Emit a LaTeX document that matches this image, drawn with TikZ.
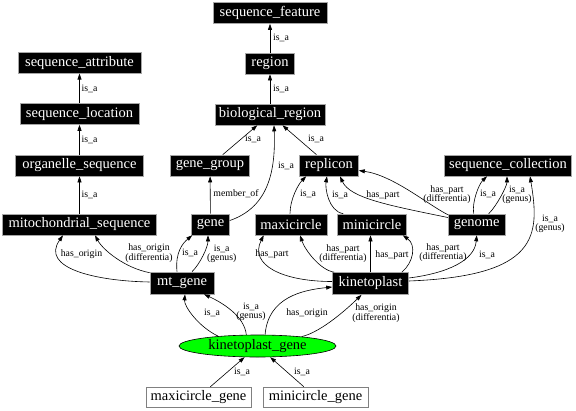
\documentclass[tikz,border=0pt]{standalone}
\usepackage{fontspec}
\setmainfont{Liberation Serif}
\usetikzlibrary{arrows.meta,shapes.geometric,calc}
\begin{document}
\begin{tikzpicture}[x=1pt,y=-1pt,
  bbox/.style={draw=gray!70,fill=black,text=white,line width=0.6pt,inner sep=0pt,minimum height=21pt,font=\fontsize{14.5}{16}\selectfont},
  wbox/.style={draw=gray,fill=white,text=black,line width=0.6pt,inner sep=0pt,minimum height=20pt,font=\fontsize{14.5}{16}\selectfont},
  gell/.style={ellipse,draw=black,fill=green,text=black,line width=0.6pt,inner sep=0pt,minimum width=157pt,minimum height=22pt,font=\fontsize{14.5}{16}\selectfont},
  lbl/.style={font=\fontsize{9.8}{9}\selectfont,align=center,inner sep=0pt},
  e/.style={draw=black,line width=0.6pt,-{Triangle[length=6pt,width=4pt]}}]
\useasboundingbox (0,0) rectangle (576,410);
% nodes
\node[bbox,minimum width=114pt] (sf) at (270,13) {sequence\_feature};
\node[bbox,minimum width=49pt] (region) at (270,63.5) {region};
\node[bbox,minimum width=110pt] (bio) at (270,114.5) {biological\_region};
\node[bbox,minimum width=123pt] (sattr) at (79.5,62.7) {sequence\_attribute};
\node[bbox,minimum width=119pt] (sloc) at (79.5,114) {sequence\_location};
\node[bbox,minimum width=128pt] (org) at (79.5,165.5) {organelle\_sequence};
\node[bbox,minimum width=79pt] (gg) at (210,165.5) {gene\_group};
\node[bbox,minimum width=59pt] (rep) at (329,165.5) {replicon};
\node[bbox,minimum width=127pt] (sc) at (508,165.5) {sequence\_collection};
\node[bbox,minimum width=154pt] (mito) at (79.5,224.5) {mitochondrial\_sequence};
\node[bbox,minimum width=38pt] (gene) at (210.5,224.5) {gene};
\node[bbox,minimum width=72pt] (maxc) at (291,224.5) {maxicircle};
\node[bbox,minimum width=69pt] (minc) at (372,224.5) {minicircle};
\node[bbox,minimum width=57pt] (genome) at (476.7,224.5) {genome};
\node[bbox,minimum width=64pt,minimum height=22pt] (mtg) at (182,283) {mt\_gene};
\node[bbox,minimum width=76pt,minimum height=22pt] (kin) at (370.5,283.5) {kinetoplast};
\node[gell] (kg) at (257.5,346) {kinetoplast\_gene};
\node[wbox,minimum width=105pt] (mxg) at (198.5,397) {maxicircle\_gene};
\node[wbox,minimum width=105pt] (mng) at (315.5,397) {minicircle\_gene};
% edges
\draw[e] (region) -- (sf);
\draw[e] (bio) -- (region);
\draw[e] (sloc) -- (sattr);
\draw[e] (org) -- (sloc);
\draw[e] (mito) -- (org);
\draw[e] (gg) -- (bio);
\draw[e] ($(gene.east)+(0,-4)$) .. controls (266,208) and (276,175.5) .. ($(bio.south)+(4,0)$);
\draw[e] (rep) -- (bio);
\draw[e] (gene) -- (gg);
\draw[e] ($(mtg.west)+(0,-1)$) .. controls (95,281) and (40,268) .. ($(mito.south)+(-16.5,0)$);
\draw[e] ($(mtg.north west)+(0,1)$) .. controls (125,268) and (103,250) .. ($(mito.south)+(15.5,0)$);
\draw[e] ($(mtg.north)+(-5,0)$) .. controls (175,252) and (183,243) .. ($(gene.south west)+(1,0)$);
\draw[e] ($(mtg.north)+(10,0)$) .. controls (200,264) and (208,247) .. ($(gene.south)+(-2.5,0)$);
\draw[e] (kg.166) .. controls (198,326.5) and (184,306) .. ($(mtg.south)+(3,0)$);
\draw[e] (kg.135) .. controls (244.5,316) and (222,302.5) .. ($(mtg.south)+(22,0)$);
\draw[e] (kg.56) .. controls (268,297) and (303,290) .. ($(kin.west)+(0,3.5)$);
\draw[e] (kg.12) .. controls (322,332) and (349.5,306.5) .. ($(kin.south)+(-9,0)$);
\draw[e] (mxg) -- (kg);
\draw[e] (mng) -- (kg);
\draw[e] ($(kin.west)+(0,-2)$) .. controls (282.5,281.5) and (249,265) .. ($(maxc.south west)+(9,0)$);
\draw[e] ($(kin.north west)+(2,0)$) .. controls (320,270) and (305,250) .. ($(maxc.south)+(9,0)$);
\draw[e] (kin.north) -- (kin.north |- minc.south);
\draw[e] ($(kin.north east)+(-7,0)$) .. controls (413.5,262.5) and (416.5,245) .. ($(minc.south east)+(-4,0)$);
\draw[e] ($(kin.east)+(0,-5.5)$) .. controls (448.5,273) and (474.7,260) .. (genome.south);
\draw[e] ($(kin.east)+(0,-2.5)$) .. controls (538.5,276) and (540,236) .. ($(sc.south)+(22,0)$);
\draw[e] ($(genome.north)+(-3,0)$) .. controls (471.7,202) and (479,184) .. ($(sc.south)+(-21,0)$);
\draw[e] ($(genome.north)+(12,0)$) .. controls (496.7,206) and (507,186) .. ($(sc.south)+(-1,0)$);
\draw[e] ($(genome.north west)+(0,1)$) .. controls (428.3,205) and (393.5,175.5) .. ($(rep.east)+(0,5)$);
\draw[e] ($(genome.west)+(0,-7)$) .. controls (388.3,205.3) and (350,198) .. ($(rep.south)+(11,0)$);
\draw[e] ($(minc.north west)+(6,0)$) .. controls (328.3,211) and (325,188) .. ($(rep.south)+(-2,0)$);
\draw[e] ($(maxc.north)+(-1,0)$) .. controls (290,199) and (298.5,184) .. ($(rep.south west)+(7,0)$);
% labels
\node[lbl] (l1) at (281,38) {is\_a};
\node[lbl] (l2) at (281,89) {is\_a};
\node[lbl] (l3) at (89.5,89) {is\_a};
\node[lbl] (l4) at (89.5,139.5) {is\_a};
\node[lbl] (l5) at (89.5,195) {is\_a};
\node[lbl] (l6) at (253,139) {is\_a};
\node[lbl] (l7) at (286,165.5) {is\_a};
\node[lbl] (l8) at (316,139) {is\_a};
\node[lbl] (l9) at (236,194) {member\_of};
\node[lbl] (l10) at (81.5,254) {has\_origin};
\node[lbl] (l11) at (149,253.5) {has\_origin\\(differentia)};
\node[lbl] (l12) at (190,253) {is\_a};
\node[lbl] (l13) at (221.7,253.5) {is\_a\\(genus)};
\node[lbl] (l14) at (212,313) {is\_a};
\node[lbl] (l15) at (251,312) {is\_a\\(genus)};
\node[lbl] (l16) at (307,313) {has\_origin};
\node[lbl] (l17) at (376,313) {has\_origin\\(differentia)};
\node[lbl] (l18) at (242,372) {is\_a};
\node[lbl] (l19) at (302,372) {is\_a};
\node[lbl] (l20) at (272,254) {has\_part};
\node[lbl] (l21) at (343,254) {has\_part\\(differentia)};
\node[lbl] (l22) at (392,255) {has\_part};
\node[lbl] (l23) at (443,253) {has\_part\\(differentia)};
\node[lbl] (l24) at (487,255) {is\_a};
\node[lbl] (l25) at (550,224) {is\_a\\(genus)};
\node[lbl] (l26) at (488,194) {is\_a};
\node[lbl] (l27) at (517,195) {is\_a\\(genus)};
\node[lbl] (l28) at (447,195) {has\_part\\(differentia)};
\node[lbl] (l29) at (383,195) {has\_part};
\node[lbl] (l30) at (340,195) {is\_a};
\node[lbl] (l31) at (308,194) {is\_a};
\end{tikzpicture}
\end{document}
